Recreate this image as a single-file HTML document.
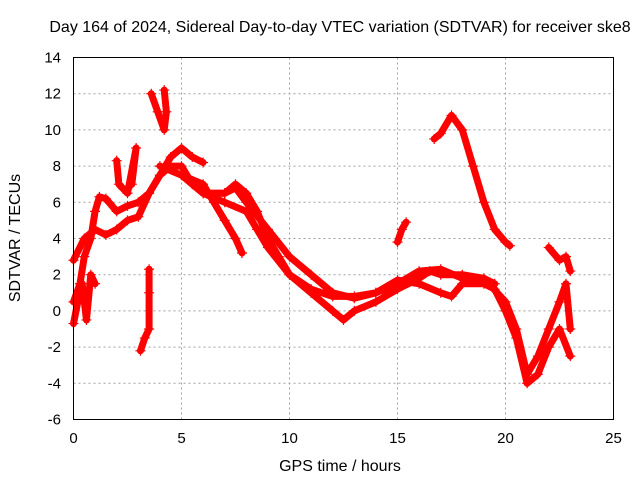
<!DOCTYPE html>
<html><head><meta charset="utf-8"><style>
body{margin:0;background:#fff}
svg text{font-family:"Liberation Sans",sans-serif;font-size:15px;fill:#000}
</style></head><body>
<svg id="chart" width="640" height="480" xmlns="http://www.w3.org/2000/svg">
<text x="340" y="32" text-anchor="middle" style="font-size:16px">Day 164 of 2024, Sidereal Day-to-day VTEC variation (SDTVAR) for receiver ske8</text>
<g id="grid"></g>
<g id="series"></g>
<rect x="73.5" y="57.5" width="540" height="362" fill="none" stroke="#000"/>
<g id="axes"></g>
<text x="340" y="471" text-anchor="middle" style="font-size:16px">GPS time / hours</text>
<text transform="translate(20,238) rotate(-90)" text-anchor="middle" style="font-size:16px">SDTVAR / TECUs</text>
</svg>
<script>
const xTicks=[0,5,10,15,20,25];
const yTicks=[-6,-4,-2,0,2,4,6,8,10,12,14];
const trackA=[[0,0.5],[0.3,1.5],[0.5,3],[0.8,4],[1,5.5],[1.2,6.3],[1.5,6.2],[2,5.5],[2.5,5.8],[3,6],[3.5,6.5],[4,7.5],[4.5,8.5],[5,9],[5.5,8.5],[6,8.2]];
const trackB=[[0,2.8],[0.5,4],[1,4.5],[1.5,4.2],[2,4.5],[2.5,5],[3,5.2],[3.5,6.5],[4,7.5],[4.5,8],[5,8],[5.5,7],[6,6.5],[7,6.5],[7.5,7],[8,6.5],[8.5,5.5],[9,4],[9.5,3],[10,2],[11,1.2],[12,0.8],[13,0.8],[14,1],[15,1.5],[16,2.2],[17,2.3],[18,1.8],[19,1.8],[19.5,1.5]];
const trackC=[[4,8],[5,7.5],[6,6.5],[7,6],[8,5.5],[8.5,4.5],[9,3.5],[10,2],[11,1],[12,0],[12.5,-0.5],[13,0],[14,0.5],[15,1.2],[16,1.8],[16.5,2.2],[17,2],[18,2],[19,1.8],[20,0.5],[20.5,-1],[21,-3.5],[21.5,-2.5],[22,-1],[22.5,0.5],[22.8,1.5],[23,-1]];
const trackD=[[5,7.5],[6,7],[6.5,6],[7,5],[7.5,4],[7.8,3.2]];
const trackE=[[6,6.5],[7,6.5],[7.5,6.8],[8,6],[9,4.5],[10,3],[11,2],[12,1],[13,0.7],[14,1],[15,1.7],[16,1.5],[17,1],[17.5,0.8],[18,1.5],[19,1.5],[19.5,1.2],[20,0],[20.5,-1.5],[21,-4],[21.5,-3.5],[22,-2],[22.5,-1],[23,-2.5]];
const trackF=[[16.7,9.5],[17,9.8],[17.5,10.8],[18,10],[18.5,8],[19,6],[19.5,4.5],[20,3.8],[20.2,3.6]];
const trackG=[[15,3.8],[15.2,4.5],[15.4,4.9]];
const trackH=[[3.1,-2.2],[3.3,-1.5],[3.5,-1],[3.5,1],[3.5,2.3]];
const trackI=[[4.2,12.2],[4.3,11],[4.2,10],[3.9,11],[3.6,12]];
const trackJ=[[22,3.5],[22.5,2.8],[22.8,3],[23,2.2]];
const trackK=[[0,-0.7],[0.2,0.5],[0.4,1.5],[0.6,-0.5],[0.8,2],[1,1.5]];
const trackL=[[2,8.3],[2.1,7],[2.5,6.5],[2.9,9],[2.7,7]];
const tracks=[trackA,trackB,trackC,trackD,trackE,trackF,trackG,trackH,trackI,trackJ,trackK,trackL];
const NS='http://www.w3.org/2000/svg';
const X=v=>73.5+v*21.6;
const Y=v=>419.5-(v+6)*18.1;
const grid=document.getElementById('grid'),axes=document.getElementById('axes'),ser=document.getElementById('series');
function mk(tag,at,p){const e=document.createElementNS(NS,tag);for(const k in at)e.setAttribute(k,at[k]);p.appendChild(e);return e;}
xTicks.forEach(t=>{
 if(t>0&&t<25){const g=mk('line',{x1:X(t),x2:X(t),y1:57.5,y2:419.5,stroke:'#a0a0a0','stroke-dasharray':'2,3'},grid);
 
 }
 const l=mk('text',{x:X(t),y:443,'text-anchor':'middle'},axes);l.textContent=t;
 
 
});
yTicks.forEach(t=>{
 if(t>-6&&t<14){const g=mk('line',{x1:73.5,x2:613.5,y1:Y(t),y2:Y(t),stroke:'#a0a0a0','stroke-dasharray':'2,3'},grid);
 
 }
 const l=mk('text',{x:61,y:Y(t)+5,'text-anchor':'end'},axes);l.textContent=t;
 
 
});
tracks.forEach(tr=>{
 const pl=mk('polyline',{points:tr.map(p=>X(p[0])+','+Y(p[1])).join(' '),fill:'none',stroke:'#f00','stroke-width':7,'stroke-linejoin':'round','stroke-linecap':'round'},ser);
 
 
 tr.forEach(p=>{
  const m=mk('path',{d:`M${X(p[0])-5},${Y(p[1])}h10M${X(p[0])},${Y(p[1])-5}v10`,stroke:'#f00','stroke-width':1.2},ser);
  
  
 });
});
</script>
</body></html>
